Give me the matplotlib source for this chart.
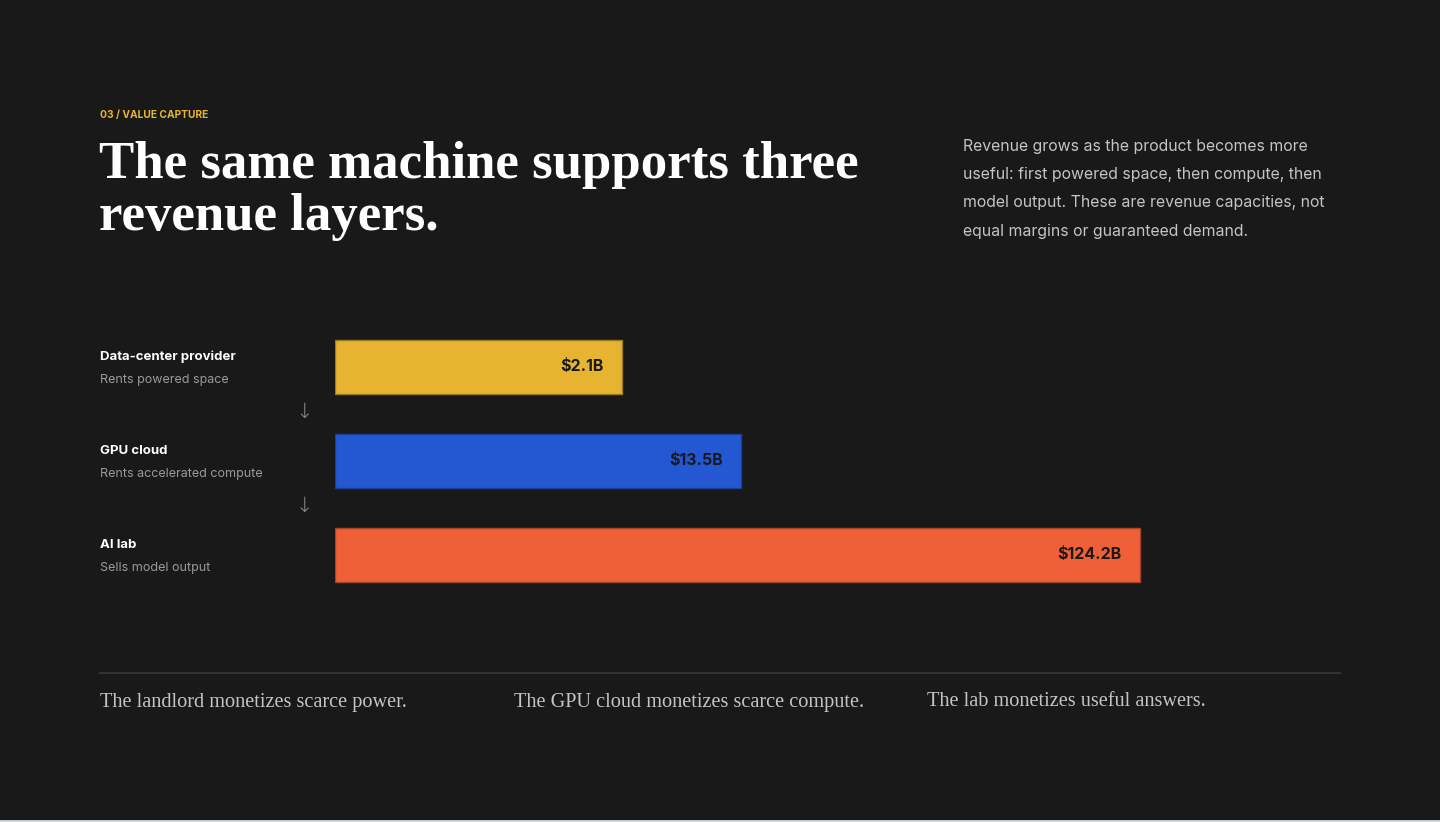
import numpy as np
import matplotlib
matplotlib.use("Agg")
import matplotlib.pyplot as plt
from matplotlib.lines import Line2D

# Data
layers = ["Data-center provider", "GPU cloud", "AI lab"]
roles = ["Rents powered space", "Rents accelerated compute", "Sells model output"]
revenue_b = np.array([2.1, 13.5, 124.2])
value_labels = ["$2.1B", "$13.5B", "$124.2B"]
bar_colors = ["#E6B430", "#2458D3", "#EF5F38"]
edge_colors = ["#9c7a20", "#1a3f99", "#a8432a"]
takeaways = ["The landlord monetizes scarce power.",
             "The GPU cloud monetizes scarce compute.",
             "The lab monetizes useful answers."]
eyebrow = "03 / VALUE CAPTURE"
title_lines = ["The same machine supports three", "revenue layers."]
note_lines = ["Revenue grows as the product becomes more",
              "useful: first powered space, then compute, then",
              "model output. These are revenue capacities, not",
              "equal margins or guaranteed demand."]

BG = "#191919"
SANS = ["Inter", "DejaVu Sans"]
SERIF = ["Liberation Serif", "DejaVu Serif"]

W, H = 1440, 822
fig = plt.figure(figsize=(W / 100, H / 100), dpi=100, facecolor=BG)


def fx(px):
    return px / W


def fy(py):
    return 1 - py / H


# header
fig.text(fx(100), fy(115), eyebrow, color="#E6B430", fontsize=7.4,
         fontweight="bold", family=SANS, va="center", ha="left")
for i, line in enumerate(title_lines):
    fig.text(fx(99), fy(178 + 52 * i), line, color="white", fontsize=38.1,
             fontweight="bold", family=SERIF, va="baseline", ha="left")
for i, line in enumerate(note_lines):
    fig.text(fx(963), fy(147 + 28 * i), line, color="#c4c4c4", fontsize=11.4,
             family=SANS, va="center", ha="left")

# bars: width mixes a floor with square-root of value so small layers stay visible
ax = fig.add_axes([fx(335), fy(602), fx(1340) - fx(335), (602 - 320) / H])
ax.set_facecolor(BG)
rel = 0.26 + 0.74 * np.sqrt(revenue_b / revenue_b.max())
y = np.arange(len(layers))
bars = ax.barh(y, rel, height=0.574, color=bar_colors, edgecolor=edge_colors,
               linewidth=1.0, left=0)
ax.set_xlim(0, 1005 / 805)
ax.set_ylim(2.5, -0.5)
ax.axis("off")

for b, lab in zip(bars, value_labels):
    ax.annotate(lab, (b.get_width(), b.get_y() + b.get_height() / 2),
                xytext=(-18, 0), textcoords="offset pixels", ha="right",
                va="center", fontsize=11.5, fontweight="bold",
                color="#1a1a1a", family=SANS)

# row labels and arrows
for i, (name, role) in enumerate(zip(layers, roles)):
    cy = 367 + 94 * i
    fig.text(fx(100), fy(cy - 10), name, color="white", fontsize=9.5,
             fontweight="bold", family=SANS, va="center", ha="left")
    fig.text(fx(100), fy(cy + 13), role, color="#9a9a9a", fontsize=9.0,
             family=SANS, va="center", ha="left")
    if i < len(layers) - 1:
        fig.text(fx(304), fy(cy + 45), "\u2193", color="#8a8a8a", fontsize=15,
                 fontweight="light", family=["DejaVu Sans"], va="center",
                 ha="center")

# footer
fig.add_artist(Line2D([fx(100), fx(1340)], [fy(673), fy(673)],
                      color="#333333", linewidth=1.5))
for i, t in enumerate(takeaways):
    fig.text(fx(100 + 413.5 * i), fy(702), t, color="#c4c4c4", fontsize=14.6,
             family=SERIF, va="center", ha="left")

fig.add_artist(Line2D([0, 1], [fy(821), fy(821)], color="#d9dce3", linewidth=2))

fig.savefig("out.png", dpi=100, facecolor=BG)
